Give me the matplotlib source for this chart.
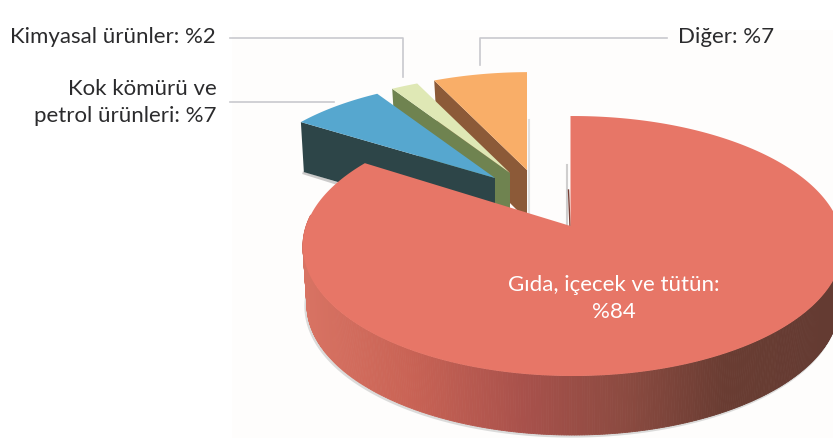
import numpy as np
import matplotlib
matplotlib.use("Agg")
import matplotlib.pyplot as plt
from matplotlib.colors import LinearSegmentedColormap
from matplotlib.patches import Polygon, Rectangle
from matplotlib.collections import PolyCollection

categories = ["Gıda, içecek ve tütün", "Kok kömürü ve petrol ürünleri", "Kimyasal ürünler", "Diğer"]
shares = [84, 7, 2, 7]
top_colors = ["#e77667", "#56a7cf", "#dfe8b5", "#f9ae68"]
side_colors = ["#c96355", "#2d4548", "#6f8350", "#8c5a38"]

# picture is laid out in pixels, y going down
RX, RY = 270, 130
APEX_OFF = np.array([-0.009, 0.154])  # perspective: apex is not the ellipse centre
apex = [(570.5, 226), (495, 178), (510, 173), (527, 170)]
scale = [(1, 1), (0.944, 0.89), (0.944, 0.89), (0.944, 0.89)]
depth = [59, 50, 50, 50]

plt.rcParams["font.family"] = ["Lato", "DejaVu Sans"]

fig = plt.figure(figsize=(8.33, 4.38), dpi=100)
ax = fig.add_axes([0, 0, 1, 1])
ax.set_xlim(0, 833)
ax.set_ylim(438, 0)
ax.axis("off")
ax.add_patch(Rectangle((232, 30), 601, 408, fc="#fefdfc", ec="none", zorder=0))


def rim(theta, a, s, shrink=1.0):
    # theta in radians, clockwise from the top
    d = np.array([np.sin(theta), np.cos(theta)])
    pd = APEX_OFF @ d
    t = -pd + np.sqrt(pd**2 + 1 - APEX_OFF @ APEX_OFF)
    return a[0] + shrink * s[0] * RX * t * d[0], a[1] - s[1] * RY * t * d[1]


edges = np.radians(np.cumsum([0] + shares) * 3.6)

# leader lines
line_c = "#c9c9ce"
ax.plot([230, 403, 403], [38, 38, 77], color=line_c, lw=1.2, zorder=1)
ax.plot([230, 334], [102, 102], color=line_c, lw=1.2, zorder=1)
ax.plot([480, 480, 667], [65, 38, 38], color=line_c, lw=1.2, zorder=1)

# small slices, far ones first
for i in [3, 2, 1]:
    a, s, dz = apex[i], scale[i], depth[i]
    th = np.linspace(edges[i], edges[i + 1], 40)
    pts = np.array([rim(t, a, s) for t in th])
    top = np.vstack([[a], pts])
    tip = pts[0]
    side = [tip, a, (a[0], a[1] + dz), (tip[0] + 3, tip[1] + dz)]
    if i == 3:
        # soft shadow on the right of the orange slice
        ax.plot([a[0] + 2, a[0] + 2], [120, a[1] + dz], color="#c4c4c4", lw=1.5, alpha=0.5, zorder=2)
    if i == 1:
        ax.plot([tip[0] + 3, tip[0] + 35], [tip[1] + dz + 1, tip[1] + dz + 11],
                color="#999999", lw=2, alpha=0.5, zorder=2)
    ax.add_patch(Polygon(side, closed=True, fc=side_colors[i], ec="none", zorder=3 + (3 - i)))
    ax.add_patch(Polygon(top, closed=True, fc=top_colors[i], ec="none", zorder=3 + (3 - i)))

# big slice: shaded wall
shade = LinearSegmentedColormap.from_list(
    "wall", [(0, "#d87363"), (0.2, "#c96355"), (0.42, "#a8514b"), (0.62, "#8a4a40"),
             (0.8, "#693c32"), (1, "#643b32")])
a, s, dz = apex[0], scale[0], depth[0]
th = np.radians(np.linspace(85, 275, 400))
up = np.array([rim(t, a, s) for t in th])
low = np.array([rim(t, a, s, shrink=0.985) for t in th]) + [0, dz]
quads = [[up[k], up[k + 1], low[k + 1], low[k]] for k in range(len(th) - 1)]
vals = [(q[0][0] - 303) / (833 - 303) for q in quads]
cols = shade(np.clip(vals, 0, 1))
ax.plot(low[:, 0] - 1.2, low[:, 1] + 1.2, color="#a8a8a8", lw=2, alpha=0.4, zorder=6)
ax.add_collection(PolyCollection(quads, facecolors=cols, edgecolors=cols, linewidths=0.6, zorder=7))

# big slice: top face
ax.plot([567, 567], [165, 224], color="#b0b0b0", lw=1.5, alpha=0.6, zorder=6)
ax.plot([568.5, 570], [190, 226], color="#7a3f35", lw=1, zorder=7)
th = np.linspace(edges[0], edges[1], 300)
pts = np.array([rim(t, a, s) for t in th])
ax.add_patch(Polygon(np.vstack([[a], pts]), closed=True, fc=top_colors[0], ec="none", zorder=8))

# labels
txt = "#2b2b2d"
fs = 16
ax.text(216, 37, "Kimyasal ürünler: %2", ha="right", va="center", fontsize=fs, color=txt, zorder=9)
ax.text(217, 89, "Kok kömürü ve", ha="right", va="center", fontsize=fs, color=txt, zorder=9)
ax.text(217, 116, "petrol ürünleri: %7", ha="right", va="center", fontsize=fs, color=txt, zorder=9)
ax.text(678, 37, "Diğer: %7", ha="left", va="center", fontsize=fs, color=txt, zorder=9)
ax.text(613.5, 285, "Gıda, içecek ve tütün:", ha="center", va="center", fontsize=fs, color="white", zorder=9)
ax.text(613.5, 312, "%84", ha="center", va="center", fontsize=fs, color="white", zorder=9)

fig.savefig("out.png", dpi=100)
